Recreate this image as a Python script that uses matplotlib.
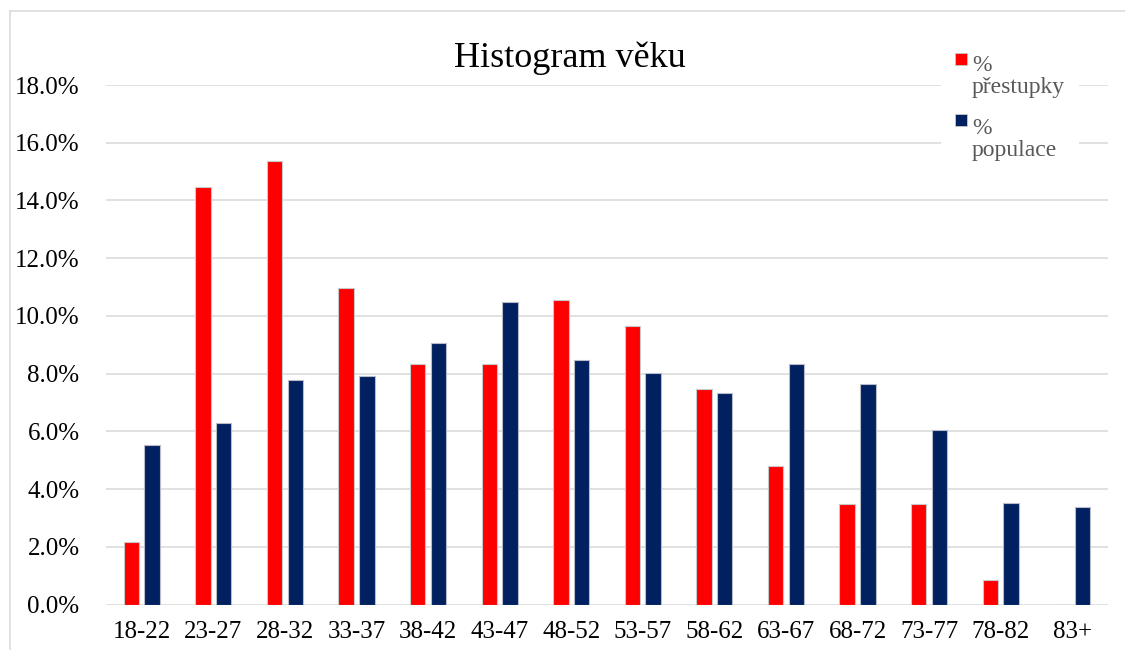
import numpy as np
import matplotlib.pyplot as plt
from matplotlib.lines import Line2D
from matplotlib.patches import Rectangle
from matplotlib.ticker import FuncFormatter

plt.rcParams.update({
    'font.family': ['Liberation Serif', 'DejaVu Serif'],
    'font.size': 18,
})

# ---------------------------------------------------------------------------
# Data (percent)
# ---------------------------------------------------------------------------
categories = ['18-22', '23-27', '28-32', '33-37', '38-42', '43-47', '48-52',
              '53-57', '58-62', '63-67', '68-72', '73-77', '78-82', '83+']
prestupky = [2.18, 14.47, 15.36, 10.97, 8.32, 8.32, 10.54,
             9.64, 7.46, 4.80, 3.48, 3.48, 0.86, 0.0]
populace = [5.54, 6.28, 7.79, 7.93, 9.08, 10.50, 8.48,
            8.01, 7.32, 8.34, 7.64, 6.06, 3.53, 3.38]
yticks = np.arange(0, 19, 2)

RED = '#FF0000'
NAVY = '#002060'
GRID = '#d9d9d9'
W, H = 1125, 650

fig = plt.figure(figsize=(W / 100, H / 100), dpi=100)
ax = fig.add_axes([106 / W, 1 - 604.7 / H, (1108 - 106) / W, (604.7 - 85) / H])

x = np.arange(len(categories))
bw, off = 0.215, 0.145
ax.bar(x - off, prestupky, width=bw, color=RED, edgecolor='#c8c8c8',
       linewidth=0.8, zorder=3)
ax.bar(x + off, populace, width=bw, color=NAVY, edgecolor='#b8bcc8',
       linewidth=0.8, zorder=3)

ax.set_xlim(-0.5, len(categories) - 0.5)
ax.set_ylim(0, 18)
ax.set_yticks(yticks)
ax.yaxis.set_major_formatter(FuncFormatter(lambda v, p: f'{v:.1f}%'))
ax.set_xticks(x)
ax.set_xticklabels(categories)
ax.tick_params(axis='y', length=0, pad=19, labelsize=18, colors='#000000')
ax.tick_params(axis='x', length=0, pad=11.5, labelsize=18, colors='#000000')
ax.yaxis.grid(True, color=GRID, linewidth=1.1, zorder=0)
ax.set_axisbelow(True)
for s in ax.spines.values():
    s.set_visible(False)

# Title
fig.text(570 / W, 1 - 67 / H, 'Histogram věku', ha='center', va='baseline',
         fontsize=26, color='#000000')

# Legend (Excel style: marker next to first line of wrapped label)
fig.patches.append(Rectangle((941 / W, 1 - 172 / H), (1079 - 941) / W, 130 / H,
                             transform=fig.transFigure, facecolor='white',
                             edgecolor='none', zorder=5))
for col, label, top, base in [(RED, '%\npřestupky', 53, 93),
                              (NAVY, '%\npopulace', 114, 156)]:
    fig.patches.append(Rectangle((955 / W, 1 - (top + 12) / H), 12 / W, 12 / H,
                                 transform=fig.transFigure, facecolor=col,
                                 edgecolor='#c8c8c8', linewidth=0.6, zorder=6))
    fig.text(972 / W, 1 - base / H, label, ha='left', va='baseline',
             fontsize=17, color='#595959', linespacing=1.05, zorder=6)

# Chart frame
fig.add_artist(Line2D([10 / W, 1.0], [1 - 11 / H, 1 - 11 / H],
                      transform=fig.transFigure, color=GRID, linewidth=1.1))
fig.add_artist(Line2D([10 / W, 10 / W], [1 - 11 / H, 0.0],
                      transform=fig.transFigure, color=GRID, linewidth=1.1))

fig.savefig('out.png', dpi=100)
